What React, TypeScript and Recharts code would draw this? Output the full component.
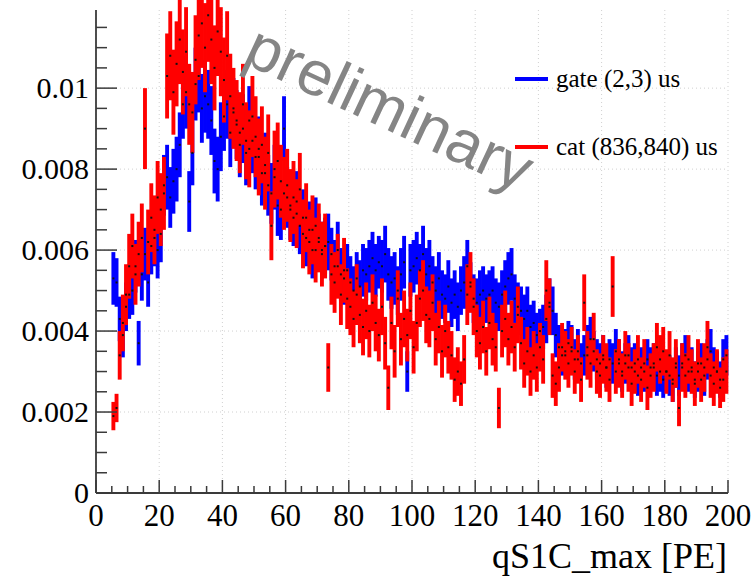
import React from 'react';
import { ComposedChart, Scatter, ErrorBar, XAxis, YAxis, CartesianGrid } from 'recharts';

// Histogram bins are 1 PE wide, first bin starts at 5 PE. Values in units of 1e-3.
const BIN_START = 5;

const gateValues = [
  5.3, 5.2, 4.3, 3.9, 4.6, 4.9, 5.0, 5.6, 3.7, 5.4,
  5.9, 5.2, 6.1, 6.3, 6.0, 6.4, 7.6, 7.8, 7.3, 7.7,
  8.0, 8.6, 9.6, 9.9, 7.2, 8.4, 10.1, 10.3, 9.5, 9.8,
  9.6, 9.2, 8.2, 8.0, 8.8, 9.3, 9.6, 8.9, 9.4, 9.1,
  8.6, 9.0, 8.4, 9.2, 8.7, 8.3, 8.5, 7.9, 8.1, 7.6,
  7.4, 7.8, 7.1, 7.0, 9.0, 7.3, 7.0, 6.8, 7.2, 6.6,
  6.8, 6.3, 6.5, 6.0, 6.6, 6.2, 6.0, 6.1, 6.2, 5.9,
  5.6, 6.0, 5.4, 5.3, 5.5, 5.2, 5.0, 5.3, 5.1, 5.5,
  5.4, 5.6, 5.8, 5.5, 5.7, 5.6, 5.9, 5.4, 5.2, 5.3,
  5.0, 5.4, 5.7, 3.0, 5.5, 5.6, 5.8, 5.5, 5.9, 5.4,
  5.6, 5.2, 5.0, 5.3, 4.9, 4.8, 5.1, 4.7, 4.9, 4.6,
  5.0, 5.2, 5.6, 5.1, 4.8, 4.7, 4.9, 5.0, 4.8, 4.9,
  5.0, 4.7, 4.6, 4.9, 5.1, 5.3, 5.4, 4.8, 4.6, 4.5,
  4.3, 4.5, 4.1, 4.2, 3.9, 4.0, 4.1, 4.3, 4.7, 4.5,
  3.9, 3.6, 3.4, 3.5, 3.7, 3.6, 3.3, 3.5, 3.2, 3.4,
  3.6, 3.8, 3.5, 3.3, 3.2, 3.4, 3.1, 3.3, 3.2, 3.5,
  3.3, 3.0, 3.2, 3.4, 3.1, 3.2, 2.9, 3.1, 3.0, 3.3,
  3.1, 3.2, 2.9, 3.0, 2.8, 3.0, 2.9, 2.7, 3.1, 2.9,
  3.2, 3.4, 3.0, 3.1, 2.8, 3.0, 3.2, 2.9, 3.3, 3.5,
  3.1, 3.0, 2.8, 3.3, 3.4,
];

const gateErrors = [
  0.65, 0.6, 0.55, 0.55, 0.6, 0.6, 0.6, 0.65, 0.55, 0.65,
  0.65, 0.6, 0.7, 0.7, 0.7, 0.7, 0.75, 0.8, 0.75, 0.8,
  0.8, 0.8, 0.85, 0.9, 0.75, 0.8, 0.9, 0.9, 0.85, 0.9,
  0.85, 0.85, 0.8, 0.8, 0.85, 0.85, 0.85, 0.85, 0.85, 0.85,
  0.8, 0.85, 0.8, 0.85, 0.8, 0.8, 0.8, 0.8, 0.8, 0.75,
  0.75, 0.8, 0.75, 0.75, 0.8, 0.75, 0.75, 0.7, 0.75, 0.7,
  0.7, 0.7, 0.7, 0.7, 0.7, 0.7, 0.7, 0.7, 0.7, 0.65,
  0.65, 0.7, 0.65, 0.65, 0.65, 0.65, 0.6, 0.65, 0.65, 0.65,
  0.65, 0.65, 0.65, 0.65, 0.65, 0.65, 0.7, 0.65, 0.65, 0.65,
  0.6, 0.65, 0.65, 0.5, 0.65, 0.65, 0.65, 0.65, 0.7, 0.65,
  0.65, 0.65, 0.6, 0.65, 0.6, 0.6, 0.65, 0.6, 0.6, 0.6,
  0.6, 0.65, 0.65, 0.6, 0.6, 0.6, 0.6, 0.6, 0.6, 0.6,
  0.6, 0.6, 0.6, 0.6, 0.65, 0.65, 0.65, 0.6, 0.6, 0.6,
  0.6, 0.6, 0.55, 0.55, 0.55, 0.55, 0.55, 0.6, 0.6, 0.6,
  0.55, 0.55, 0.5, 0.55, 0.55, 0.55, 0.5, 0.55, 0.5, 0.5,
  0.55, 0.55, 0.5, 0.5, 0.5, 0.5, 0.5, 0.5, 0.5, 0.55,
  0.5, 0.5, 0.5, 0.5, 0.5, 0.5, 0.5, 0.5, 0.5, 0.5,
  0.5, 0.5, 0.5, 0.5, 0.45, 0.5, 0.5, 0.45, 0.5, 0.5,
  0.5, 0.5, 0.5, 0.5, 0.45, 0.5, 0.5, 0.5, 0.5, 0.55,
  0.5, 0.5, 0.45, 0.5, 0.5,
];

const catValues = [
  1.9, 2.1, 3.4, 4.2, 4.9, 5.6, 6.1, 5.4, 5.9, 6.3,
  9.0, 6.2, 6.8, 6.5, 7.3, 7.0, 7.4, 10.3, 10.8, 9.9,
  10.6, 11.2, 10.4, 10.9, 9.6, 9.4, 10.7, 11.3, 11.6, 11.0,
  11.8, 11.2, 10.5, 11.4, 10.9, 10.2, 10.8, 9.8, 9.5, 9.2,
  8.9, 9.6, 8.7, 8.5, 9.3, 8.8, 8.3, 8.6, 7.9, 8.4,
  6.6, 8.0, 8.2, 7.7, 7.4, 7.6, 7.1, 7.3, 6.9, 7.5,
  6.4, 6.8, 6.2, 6.5, 6.0, 6.3, 5.9, 6.1, 3.1, 5.4,
  5.2, 5.6, 4.9, 5.5, 4.8, 4.6, 4.3, 4.9, 4.4, 4.1,
  4.5, 4.0, 4.7, 4.2, 3.9, 4.6, 3.7, 2.6, 4.2, 3.5,
  4.8, 3.8, 4.3, 3.9, 4.5, 3.6, 4.2, 4.8, 5.0, 4.4,
  4.3, 4.7, 3.8, 4.1, 3.5, 4.0, 3.6, 3.4, 2.8, 3.0,
  2.7, 3.3, 4.9, 5.2, 4.6, 4.0, 3.7, 4.1, 3.5, 4.2,
  3.8, 3.6, 2.1, 4.0, 4.3, 3.8, 4.1, 3.6, 4.4, 3.7,
  3.2, 3.5, 3.0, 3.4, 3.1, 3.6, 3.3, 5.0, 4.6, 2.9,
  2.7, 3.1, 3.6, 3.4, 3.2, 3.5, 3.0, 3.3, 2.8, 4.7,
  3.4, 3.2, 3.8, 3.0, 2.9, 3.3, 3.1, 2.8, 5.1, 3.0,
  3.2, 2.9, 3.4, 3.1, 2.7, 3.0, 3.3, 2.8, 3.2, 2.6,
  2.9, 3.1, 3.6, 3.3, 3.5, 3.0, 3.4, 2.8, 3.2, 2.1,
  3.1, 2.9, 3.3, 3.0, 2.7, 3.2, 2.8, 3.1, 3.6, 2.9,
  2.7, 3.0, 2.6, 2.8, 3.0,
];

const catErrors = [
  0.35, 0.35, 0.6, 0.7, 0.75, 0.8, 0.8, 0.75, 0.8, 0.85,
  1.0, 0.8, 0.85, 0.85, 0.9, 0.9, 0.9, 1.05, 1.1, 1.05,
  1.05, 1.1, 1.05, 1.1, 1.0, 1.0, 1.1, 1.1, 1.1, 1.1,
  1.15, 1.1, 1.05, 1.1, 1.1, 1.05, 1.1, 1.05, 1.0, 1.0,
  1.0, 1.0, 0.95, 0.95, 1.0, 1.0, 0.95, 0.95, 0.9, 0.95,
  0.85, 0.95, 0.95, 0.9, 0.9, 0.9, 0.9, 0.9, 0.85, 0.9,
  0.85, 0.85, 0.8, 0.85, 0.8, 0.85, 0.8, 0.8, 0.6, 0.75,
  0.75, 0.8, 0.75, 0.8, 0.75, 0.7, 0.7, 0.75, 0.7, 0.7,
  0.7, 0.65, 0.7, 0.7, 0.65, 0.7, 0.65, 0.55, 0.65, 0.65,
  0.7, 0.65, 0.7, 0.65, 0.7, 0.65, 0.7, 0.7, 0.75, 0.7,
  0.7, 0.7, 0.65, 0.65, 0.65, 0.65, 0.65, 0.6, 0.55, 0.6,
  0.55, 0.6, 0.75, 0.75, 0.7, 0.65, 0.65, 0.65, 0.6, 0.65,
  0.65, 0.6, 0.5, 0.65, 0.7, 0.65, 0.65, 0.6, 0.7, 0.65,
  0.6, 0.6, 0.6, 0.6, 0.6, 0.6, 0.6, 0.75, 0.7, 0.55,
  0.55, 0.6, 0.6, 0.6, 0.6, 0.6, 0.55, 0.6, 0.55, 0.7,
  0.6, 0.6, 0.65, 0.55, 0.55, 0.6, 0.6, 0.55, 0.75, 0.55,
  0.6, 0.55, 0.6, 0.6, 0.55, 0.55, 0.6, 0.55, 0.6, 0.55,
  0.55, 0.6, 0.6, 0.6, 0.6, 0.55, 0.6, 0.55, 0.6, 0.45,
  0.6, 0.55, 0.6, 0.55, 0.55, 0.6, 0.55, 0.6, 0.65, 0.55,
  0.55, 0.55, 0.5, 0.55, 0.55,
];

const xTicks = [0, 5, 10, 15, 20, 25, 30, 35, 40, 45, 50, 55, 60, 65, 70, 75, 80, 85, 90, 95, 100,
  105, 110, 115, 120, 125, 130, 135, 140, 145, 150, 155, 160, 165, 170, 175, 180, 185, 190, 195, 200];
const xMajor = [0, 20, 40, 60, 80, 100, 120, 140, 160, 180, 200];
const yTicks = [0, 0.5, 1, 1.5, 2, 2.5, 3, 3.5, 4, 4.5, 5, 5.5, 6, 6.5, 7, 7.5, 8, 8.5, 9, 9.5, 10, 10.5, 11, 11.5];
const yMajor = [0, 2, 4, 6, 8, 10];
const yLabels = ['0', '0.002', '0.004', '0.006', '0.008', '0.01'];
const Y_MAX = 11.93;

const seriesNames = ['gate (2,3) us', 'cat (836,840) us'];
const xTitle = 'qS1C_max [PE]';
const watermark = 'preliminary';

const toPoints = (vals: number[], errs: number[]) =>
  vals.map((v, i) => ({ x: BIN_START + i + 0.5, y: v, e: errs[i] }));

const gatePoints = toPoints(gateValues, gateErrors);
const catPoints = toPoints(catValues, catErrors);

const AXIS = '#3a3a3a';
const SERIF = '"Liberation Serif", "Times New Roman", serif';

const BottomTick = (p: any) => {
  const v = p.payload.value;
  const major = xMajor.includes(v);
  return (
    <g>
      <line x1={p.x} x2={p.x} y1={p.y} y2={p.y - (major ? 13 : 7)} stroke={AXIS} strokeWidth={1.5} />
      {major && (
        <text x={p.x} y={p.y + 33} textAnchor="middle" fontFamily={SERIF} fontSize={31} fill="#000">
          {v}
        </text>
      )}
    </g>
  );
};

const TopTick = (p: any) => {
  const v = p.payload.value;
  const major = xMajor.includes(v);
  return <line x1={p.x} x2={p.x} y1={p.y} y2={p.y + (major ? 13 : 7)} stroke={AXIS} strokeWidth={1.5} />;
};

const LeftTick = (p: any) => {
  const v = p.payload.value;
  const idx = yMajor.indexOf(v);
  const major = idx >= 0;
  return (
    <g>
      <line x1={p.x} x2={p.x + (major ? 21 : 11)} y1={p.y} y2={p.y} stroke={AXIS} strokeWidth={1.5} />
      {major && (
        <text x={p.x - 7} y={p.y + 10} textAnchor="end" fontFamily={SERIF} fontSize={30} fill="#000">
          {yLabels[idx]}
        </text>
      )}
    </g>
  );
};

const RightTick = (p: any) => {
  const v = p.payload.value;
  const major = yMajor.includes(v);
  return <line x1={p.x} x2={p.x - (major ? 19 : 10)} y1={p.y} y2={p.y} stroke={AXIS} strokeWidth={1.5} />;
};

const dotShape = (p: any) => <rect x={p.cx - 1} y={p.cy - 1} width={2} height={2} fill="#111" />;

export default function App() {
  return (
    <div style={{ position: 'absolute', left: 0, top: 0, width: 756, height: 578, background: '#fff' }}>
      <ComposedChart width={756} height={578} margin={{ top: 10, right: 28, bottom: 0, left: 0 }}>
        <CartesianGrid
          xAxisId="b"
          yAxisId="l"
          horizontalValues={yMajor}
          verticalValues={xMajor}
          stroke="#d0d0d0"
          strokeDasharray="1 3"
        />
        <XAxis
          xAxisId="b"
          dataKey="x"
          type="number"
          domain={[0, 200]}
          ticks={xTicks}
          interval={0}
          orientation="bottom"
          height={85}
          tickSize={0}
          tickMargin={0}
          tickLine={false}
          axisLine={{ stroke: AXIS, strokeWidth: 1.8 }}
          tick={(p: any) => <BottomTick {...p} />}
          allowDataOverflow
          label={{
            content: (lp: any) => {
              const vb = lp.viewBox;
              return (
                <text x={vb.x + vb.width - 1} y={vb.y + 75} textAnchor="end" fontFamily={SERIF} fontSize={36} fill="#000">
                  {xTitle}
                </text>
              );
            },
          }}
        />
        <XAxis
          xAxisId="t"
          dataKey="x"
          type="number"
          domain={[0, 200]}
          ticks={xTicks}
          interval={0}
          orientation="top"
          height={0}
          tickSize={0}
          tickMargin={0}
          tickLine={false}
          axisLine={{ stroke: AXIS, strokeWidth: 1.8 }}
          tick={(p: any) => <TopTick {...p} />}
          allowDataOverflow
        />
        <YAxis
          yAxisId="l"
          dataKey="y"
          type="number"
          domain={[0, Y_MAX]}
          ticks={yTicks}
          interval={0}
          orientation="left"
          width={96}
          tickSize={0}
          tickMargin={0}
          tickLine={false}
          axisLine={{ stroke: AXIS, strokeWidth: 1.8 }}
          tick={(p: any) => <LeftTick {...p} />}
          allowDataOverflow
        />
        <YAxis
          yAxisId="r"
          dataKey="y"
          type="number"
          domain={[0, Y_MAX]}
          ticks={yTicks}
          interval={0}
          orientation="right"
          width={0}
          tickSize={0}
          tickMargin={0}
          tickLine={false}
          axisLine={{ stroke: AXIS, strokeWidth: 1.8 }}
          tick={(p: any) => <RightTick {...p} />}
          allowDataOverflow
        />
        <Scatter
          name={seriesNames[0]}
          data={gatePoints}
          dataKey="y"
          xAxisId="b"
          yAxisId="l"
          fill="#0000ff"
          shape={dotShape}
          isAnimationActive={false}
        >
          <ErrorBar dataKey="e" direction="y" width={0} stroke="#0000ff" strokeWidth={3.9} isAnimationActive={false} />
        </Scatter>
        <Scatter
          name={seriesNames[1]}
          data={catPoints}
          dataKey="y"
          xAxisId="b"
          yAxisId="l"
          fill="#ff0000"
          shape={dotShape}
          isAnimationActive={false}
        >
          <ErrorBar dataKey="e" direction="y" width={0} stroke="#ff0000" strokeWidth={3.9} isAnimationActive={false} />
        </Scatter>
      </ComposedChart>
      <svg
        width={756}
        height={578}
        style={{ position: 'absolute', left: 0, top: 0, pointerEvents: 'none' }}
      >
        <text
          x={241}
          y={62}
          transform="rotate(25 241 62)"
          fontFamily='"Liberation Sans", Arial, sans-serif'
          fontSize={63}
          fill="#858585"
        >
          {watermark}
        </text>
        <line x1={515} x2={548} y1={79} y2={79} stroke="#0000ff" strokeWidth={4} />
        <text x={556} y={87} fontFamily={SERIF} fontSize={25} fill="#000">
          {seriesNames[0]}
        </text>
        <line x1={515} x2={548} y1={147} y2={147} stroke="#ff0000" strokeWidth={4} />
        <text x={556} y={155} fontFamily={SERIF} fontSize={25} fill="#000">
          {seriesNames[1]}
        </text>
      </svg>
    </div>
  );
}
